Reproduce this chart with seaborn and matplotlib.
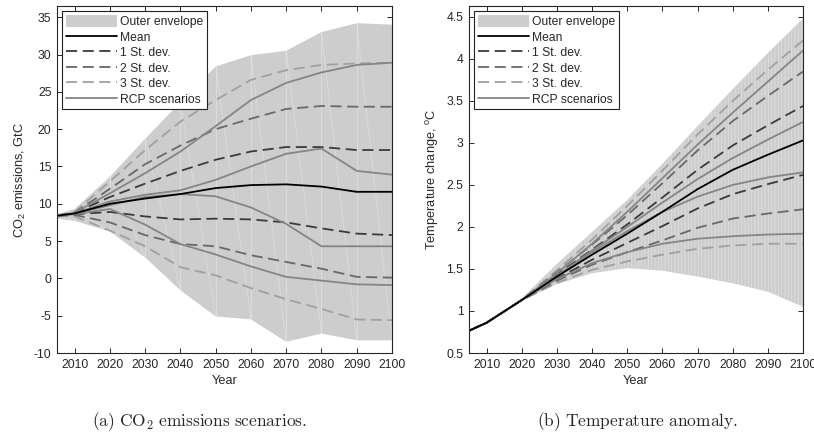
import numpy as np
import pandas as pd
import matplotlib
matplotlib.use("Agg")
import matplotlib.pyplot as plt
import seaborn as sns
from matplotlib.patches import Patch
from matplotlib.lines import Line2D

# ---------------- data ----------------
years = [2005, 2010, 2020, 2030, 2040, 2050, 2060, 2070, 2080, 2090, 2100]

# (a) CO2 emissions, GtC
co2_env_hi = [8.6, 9.3, 13.6, 18.7, 23.6, 28.4, 29.9, 30.5, 33.0, 34.2, 34.0]
co2_env_lo = [8.0, 7.7, 6.3, 2.8, -1.6, -5.1, -5.5, -8.5, -7.4, -8.3, -8.3]
co2_mean = [8.4, 8.7, 10.0, 10.7, 11.3, 12.1, 12.5, 12.6, 12.3, 11.6, 11.6]
co2_sd1_hi = [8.4, 8.8, 10.9, 12.7, 14.4, 15.9, 17.0, 17.6, 17.6, 17.2, 17.2]
co2_sd1_lo = [8.4, 8.6, 8.9, 8.3, 7.9, 8.0, 7.9, 7.5, 6.7, 6.0, 5.8]
co2_sd2_hi = [8.4, 8.8, 12.0, 15.3, 17.8, 20.0, 21.4, 22.7, 23.1, 23.0, 23.0]
co2_sd2_lo = [8.4, 8.5, 7.5, 5.8, 4.6, 4.3, 3.1, 2.2, 1.3, 0.2, 0.1]
co2_sd3_hi = [8.4, 8.9, 13.0, 17.2, 21.0, 23.9, 26.6, 27.9, 28.6, 28.8, 28.9]
co2_sd3_lo = [8.4, 8.3, 6.4, 4.3, 1.5, 0.4, -1.3, -2.8, -4.1, -5.5, -5.6]
co2_rcp85 = [8.4, 8.8, 11.4, 14.1, 17.0, 20.4, 23.9, 26.2, 27.6, 28.6, 28.9]
co2_rcp60 = [8.4, 8.7, 10.3, 11.2, 11.8, 13.2, 15.0, 16.7, 17.4, 14.4, 13.9]
co2_rcp45 = [8.4, 8.7, 9.8, 10.9, 11.3, 11.0, 9.5, 7.3, 4.3, 4.3, 4.3]
co2_rcp26 = [8.4, 8.6, 9.3, 7.2, 4.6, 3.2, 1.6, 0.2, -0.3, -0.8, -0.9]

# (b) temperature change, deg C
t_env_hi = [0.77, 0.87, 1.15, 1.56, 1.94, 2.32, 2.75, 3.20, 3.64, 4.07, 4.48]
t_env_lo = [0.76, 0.85, 1.12, 1.32, 1.45, 1.51, 1.48, 1.41, 1.33, 1.23, 1.05]
t_mean = [0.765, 0.86, 1.13, 1.41, 1.67, 1.92, 2.18, 2.45, 2.68, 2.86, 3.03]
t_sd1_hi = [0.765, 0.86, 1.13, 1.435, 1.73, 2.03, 2.35, 2.68, 2.97, 3.21, 3.44]
t_sd1_lo = [0.765, 0.86, 1.13, 1.385, 1.61, 1.81, 2.01, 2.22, 2.39, 2.51, 2.62]
t_sd2_hi = [0.765, 0.86, 1.13, 1.46, 1.79, 2.14, 2.52, 2.91, 3.26, 3.56, 3.85]
t_sd2_lo = [0.765, 0.86, 1.13, 1.36, 1.55, 1.70, 1.84, 1.99, 2.10, 2.16, 2.21]
t_sd3_hi = [0.765, 0.86, 1.13, 1.485, 1.85, 2.25, 2.67, 3.10, 3.50, 3.87, 4.22]
t_sd3_lo = [0.765, 0.86, 1.13, 1.335, 1.49, 1.59, 1.67, 1.74, 1.78, 1.80, 1.80]
t_rcp85 = [0.765, 0.86, 1.13, 1.45, 1.80, 2.18, 2.58, 2.98, 3.36, 3.73, 4.10]
t_rcp60 = [0.765, 0.86, 1.13, 1.42, 1.72, 2.00, 2.29, 2.57, 2.82, 3.04, 3.25]
t_rcp45 = [0.765, 0.86, 1.13, 1.42, 1.70, 1.95, 2.18, 2.36, 2.50, 2.59, 2.65]
t_rcp26 = [0.765, 0.86, 1.13, 1.38, 1.57, 1.70, 1.80, 1.86, 1.89, 1.91, 1.92]

legend_labels = ["Outer envelope", "Mean", "1 St. dev.", "2 St. dev.", "3 St. dev.", "RCP scenarios"]
captions = [r"$\mathrm{(a)\ CO_2\ emissions\ scenarios.}$", r"$\mathrm{(b)\ Temperature\ anomaly.}$"]

# ---------------- style ----------------
sns.set_theme(style="ticks")
plt.rcParams.update({
    "font.family": ["Liberation Sans", "DejaVu Sans"],
    "font.size": 8.7,
    "axes.unicode_minus": False,
    "lines.scale_dashes": False,
    "mathtext.fontset": "custom",
    "mathtext.rm": "Liberation Sans",
    "mathtext.it": "Liberation Sans:italic",
    "mathtext.bf": "Liberation Sans:bold",
    "xtick.direction": "in",
    "ytick.direction": "in",
    "xtick.top": True,
    "ytick.right": True,
    "xtick.major.size": 3.5,
    "ytick.major.size": 3.5,
    "xtick.major.width": 0.7,
    "ytick.major.width": 0.7,
    "axes.linewidth": 0.8,
    "axes.edgecolor": "#262626",
    "hatch.linewidth": 0.6,
})

C_ENV = "#cdcdcd"
C_MEAN = "#000000"
C_SD1 = "#3a3a3a"
C_SD2 = "#686868"
C_SD3 = "#a0a0a0"
C_RCP = "#858585"
LW = 1.3
DASH = (0, (8, 4))

fig = plt.figure(figsize=(8.14, 4.42), dpi=100)
axL = fig.add_axes([57 / 814, 1 - 353 / 442, (392 - 57) / 814, (353 - 6) / 442])
axR = fig.add_axes([469 / 814, 1 - 353 / 442, (803 - 469) / 814, (353 - 6) / 442])


def draw(ax, env_lo, env_hi, mean, s1, s2, s3, rcps, striped):
    if striped:
        ax.fill_between(years, env_lo, env_hi, facecolor=C_ENV, edgecolor="#dedede",
                        hatch="|||||", linewidth=0, zorder=1)
    else:
        ax.fill_between(years, env_lo, env_hi, facecolor=C_ENV, edgecolor="none",
                        linewidth=0, zorder=1)
        # faint rendering seams of the patch
        for i in range(len(years) - 1):
            ax.plot([years[i + 1], years[i + 1]], [env_lo[i + 1], env_hi[i + 1]],
                    color="white", alpha=0.35, lw=0.6, zorder=1.5)
            ax.plot([years[i], years[i + 1]], [env_hi[i], env_lo[i + 1]],
                    color="white", alpha=0.3, lw=0.6, zorder=1.5)
    for arr, c in [(s3[0], C_SD3), (s3[1], C_SD3), (s2[0], C_SD2), (s2[1], C_SD2),
                   (s1[0], C_SD1), (s1[1], C_SD1)]:
        sns.lineplot(x=years, y=arr, ax=ax, color=c, linewidth=LW, linestyle=DASH,
                     errorbar=None, legend=False, zorder=3)
    for arr in rcps:
        sns.lineplot(x=years, y=arr, ax=ax, color=C_RCP, linewidth=LW,
                     errorbar=None, legend=False, zorder=3)
    sns.lineplot(x=years, y=mean, ax=ax, color=C_MEAN, linewidth=LW,
                 errorbar=None, legend=False, zorder=4)
    ax.set_xlim(2005, 2100)
    ax.set_xticks(range(2010, 2101, 10))
    ax.set_xlabel("Year", fontsize=9.2, labelpad=3)
    ax.tick_params(labelsize=8.7, pad=4)
    for sp in ax.spines.values():
        sp.set_visible(True)
    handles = [
        Patch(facecolor=C_ENV, edgecolor="none"),
        Line2D([], [], color=C_MEAN, lw=LW),
        Line2D([], [], color=C_SD1, lw=LW, ls=DASH),
        Line2D([], [], color=C_SD2, lw=LW, ls=DASH),
        Line2D([], [], color=C_SD3, lw=LW, ls=DASH),
        Line2D([], [], color=C_RCP, lw=LW),
    ]
    leg = ax.legend(handles, legend_labels, loc="upper left", fontsize=8.7,
                    handlelength=4.2, handleheight=1.1, handletextpad=0.3,
                    labelspacing=0.22, borderpad=0.3, borderaxespad=0.45,
                    frameon=True, fancybox=False, framealpha=1, edgecolor="#222222")
    leg.get_frame().set_linewidth(0.8)


draw(axL, co2_env_lo, co2_env_hi, co2_mean, (co2_sd1_hi, co2_sd1_lo),
     (co2_sd2_hi, co2_sd2_lo), (co2_sd3_hi, co2_sd3_lo),
     [co2_rcp85, co2_rcp60, co2_rcp45, co2_rcp26], striped=False)
axL.set_ylim(-10, 36.5)
axL.set_yticks(range(-10, 36, 5))
axL.set_ylabel("CO$_2$ emissions, GtC", fontsize=9.2, labelpad=4)

draw(axR, t_env_lo, t_env_hi, t_mean, (t_sd1_hi, t_sd1_lo),
     (t_sd2_hi, t_sd2_lo), (t_sd3_hi, t_sd3_lo),
     [t_rcp85, t_rcp60, t_rcp45, t_rcp26], striped=True)
axR.set_ylim(0.5, 4.63)
axR.set_yticks([0.5, 1, 1.5, 2, 2.5, 3, 3.5, 4, 4.5])
axR.set_yticklabels(["0.5", "1", "1.5", "2", "2.5", "3", "3.5", "4", "4.5"])
axR.set_ylabel("Temperature change, $^{\\mathrm{o}}$C", fontsize=9.2, labelpad=4)

fig.text(200 / 814, 1 - 422 / 442, captions[0], ha="center", va="center",
         fontsize=12.5, math_fontfamily="cm")
fig.text(638 / 814, 1 - 422 / 442, captions[1], ha="center", va="center",
         fontsize=12.5, math_fontfamily="cm")

fig.savefig("out.png", dpi=100)
